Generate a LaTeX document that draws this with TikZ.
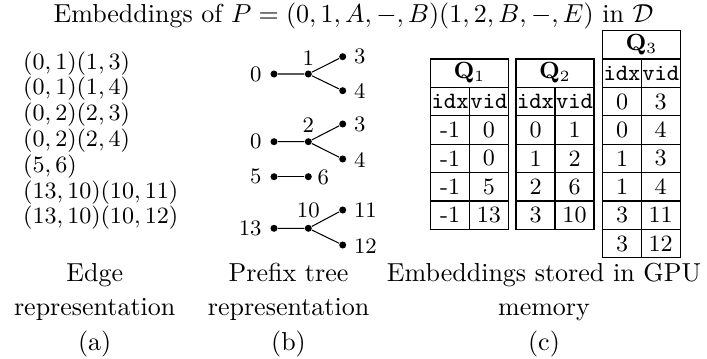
\documentclass[tikz,border=0pt]{standalone}
\usepackage{amsmath}
\begin{document}
\begin{tikzpicture}[x=0.3846pt,y=-0.3846pt,
  dot/.style={circle,fill,inner sep=0pt,minimum size=2.7pt},
  lbl/.style={inner sep=0pt,font=\fontsize{8.5}{10}\selectfont},
  cell/.style={inner sep=0pt,font=\fontsize{9}{11}\selectfont},
  captxt/.style={inner sep=0pt,anchor=base},
  edgetxt/.style={inner sep=0pt,anchor=west,font=\fontsize{9}{11}\selectfont},
  tline/.style={line width=0.4pt},
  treeline/.style={line width=0.4pt}]
\useasboundingbox (0,0) rectangle (707,358);

% title
\node[captxt] (title) at (353.5,23) {Embeddings of $P=(0,1,A,-,B)(1,2,B,-,E)$ in $\mathcal{D}$};

% (a) edge representation
\foreach \t [count=\k] in {{(0,1)(1,3)},{(0,1)(1,4)},{(0,2)(2,3)},{(0,2)(2,4)},{(5,6)},{(13,10)(10,11)},{(13,10)(10,12)}}
  \node[edgetxt] (e\k) at (22.7,{63.3+25.8*(\k-1)}) {$\t$};

% (b) prefix trees
% tree 1
\node[dot] (t1a) at (274,74) {};
\node[dot] (t1b) at (308.3,74) {};
\node[dot] (t1c) at (342.7,56.7) {};
\node[dot] (t1d) at (342.7,90.7) {};
\draw[treeline] (t1a) -- (t1b) (t1b) -- (t1c) (t1b) -- (t1d);
\node[lbl,anchor=east] (l1a) at (262,74) {0};
\node[lbl] (l1b) at (308.3,58.3) {1};
\node[lbl,anchor=west] (l1c) at (353.5,56.7) {3};
\node[lbl,anchor=west] (l1d) at (353.5,91.5) {4};
% tree 2
\node[dot] (t2a) at (274,141.7) {};
\node[dot] (t2b) at (308.3,141.7) {};
\node[dot] (t2c) at (342.7,124) {};
\node[dot] (t2d) at (342.7,159) {};
\draw[treeline] (t2a) -- (t2b) (t2b) -- (t2c) (t2b) -- (t2d);
\node[lbl,anchor=east] (l2a) at (262,141.7) {0};
\node[lbl] (l2b) at (308.3,125) {2};
\node[lbl,anchor=west] (l2c) at (353.5,124) {3};
\node[lbl,anchor=west] (l2d) at (353.5,160) {4};
% edge 5-6
\node[dot] (t3a) at (274,176.7) {};
\node[dot] (t3b) at (308.3,176.7) {};
\draw[treeline] (t3a) -- (t3b);
\node[lbl,anchor=east] (l3a) at (262,176.7) {5};
\node[lbl,anchor=west] (l3b) at (317,177.5) {6};
% tree 3
\node[dot] (t4a) at (274,228.3) {};
\node[dot] (t4b) at (308.3,228.3) {};
\node[dot] (t4c) at (342.7,210) {};
\node[dot] (t4d) at (342.7,245) {};
\draw[treeline] (t4a) -- (t4b) (t4b) -- (t4c) (t4b) -- (t4d);
\node[lbl,anchor=east] (l4a) at (262,228.3) {13};
\node[lbl] (l4b) at (308.3,210) {10};
\node[lbl,anchor=west] (l4c) at (353.5,210) {11};
\node[lbl,anchor=west] (l4d) at (353.5,246) {12};

% (c) tables
\def\rh{28.4}
% Q1
\draw[tline] (430.7,59) rectangle (508.3,{59+6*\rh});
\foreach \k in {1,...,5} \draw[tline] (430.7,{59+\k*\rh}) -- (508.3,{59+\k*\rh});
\draw[tline] (469.5,{59+\rh}) -- (469.5,{59+6*\rh});
\node[cell] (q1h) at (469.5,{59+0.5*\rh}) {$\mathbf{Q}_1$};
\node[cell] (q1i) at (450.1,{59+1.5*\rh}) {\texttt{idx}};
\node[cell] (q1v) at (488.9,{59+1.5*\rh}) {\texttt{vid}};
\foreach \a/\b [count=\r] in {-1/0,-1/0,-1/5,-1/13} {
  \node[cell] (q1a\r) at (450.1,{59+(\r+1.5)*\rh}) {\a};
  \node[cell] (q1b\r) at (488.9,{59+(\r+1.5)*\rh}) {\b};
}
% Q2
\draw[tline] (516,59) rectangle (594,{59+6*\rh});
\foreach \k in {1,...,5} \draw[tline] (516,{59+\k*\rh}) -- (594,{59+\k*\rh});
\draw[tline] (555,{59+\rh}) -- (555,{59+6*\rh});
\node[cell] (q2h) at (555,{59+0.5*\rh}) {$\mathbf{Q}_2$};
\node[cell] (q2i) at (535.5,{59+1.5*\rh}) {\texttt{idx}};
\node[cell] (q2v) at (574.5,{59+1.5*\rh}) {\texttt{vid}};
\foreach \a/\b [count=\r] in {0/1,1/2,2/6,3/10} {
  \node[cell] (q2a\r) at (535.5,{59+(\r+1.5)*\rh}) {\a};
  \node[cell] (q2b\r) at (574.5,{59+(\r+1.5)*\rh}) {\b};
}
% Q3
\draw[tline] (602.7,30.6) rectangle (680,{30.6+8*\rh});
\foreach \k in {1,...,7} \draw[tline] (602.7,{30.6+\k*\rh}) -- (680,{30.6+\k*\rh});
\draw[tline] (641.3,{30.6+\rh}) -- (641.3,{30.6+8*\rh});
\node[cell] (q3h) at (641.3,{30.6+0.5*\rh}) {$\mathbf{Q}_3$};
\node[cell] (q3i) at (622,{30.6+1.5*\rh}) {\texttt{idx}};
\node[cell] (q3v) at (660.7,{30.6+1.5*\rh}) {\texttt{vid}};
\foreach \a/\b [count=\r] in {0/3,0/4,1/3,1/4,3/11,3/12} {
  \node[cell] (q3a\r) at (622,{30.6+(\r+1.5)*\rh}) {\a};
  \node[cell] (q3b\r) at (660.7,{30.6+(\r+1.5)*\rh}) {\b};
}

% captions
\node[captxt] (ca1) at (94.7,281) {Edge};
\node[captxt] (ca2) at (94.7,315.5) {representation};
\node[captxt] (ca3) at (94.7,350) {(a)};
\node[captxt] (cb1) at (288.5,281) {Prefix tree};
\node[captxt] (cb2) at (288.5,315.5) {representation};
\node[captxt] (cb3) at (288.5,350) {(b)};
\node[captxt] (cc1) at (544,281) {Embeddings stored in GPU};
\node[captxt] (cc2) at (544,315.5) {memory};
\node[captxt] (cc3) at (544,350) {(c)};
\end{tikzpicture}
\end{document}
